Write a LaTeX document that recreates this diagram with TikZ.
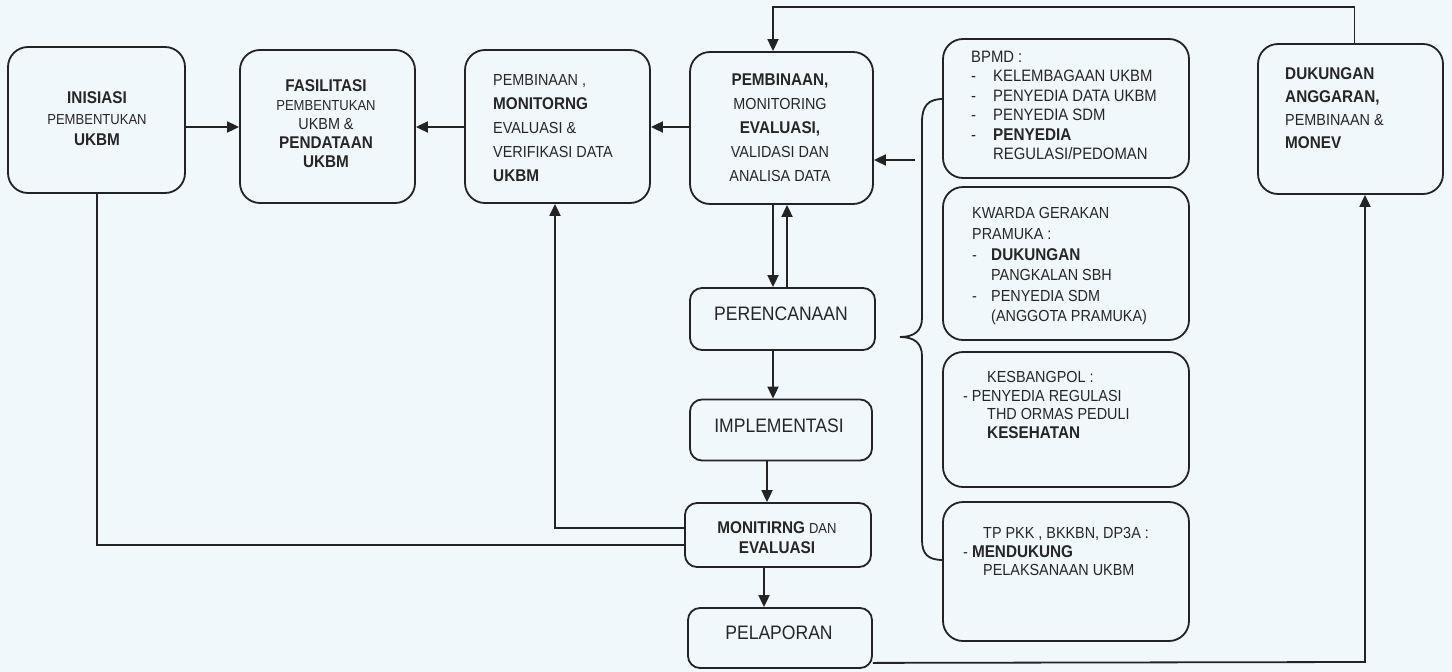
\documentclass[tikz,border=0pt]{standalone}
\usepackage{fontspec}
\setmainfont{Liberation Sans}[FakeStretch=0.9]
\usetikzlibrary{arrows.meta}

\definecolor{bgc}{HTML}{F1F8FB}
\definecolor{linec}{HTML}{232323}
\definecolor{txtc}{HTML}{262626}

% word styles: bold and small, keeping the line spacing of the node
\newcommand\Bw[1]{{\fontsize{17}{\baselineskip}\selectfont\bfseries #1}}
\newcommand\Sw[1]{{\fontsize{14.5}{\baselineskip}\selectfont #1}}
\newcommand\dsh[1][22pt]{\makebox[#1][l]{-}}
\newcommand\ind[1][22pt]{\hspace*{#1}}

\tikzset{
  box/.style={draw=linec, line width=1.8pt, rounded corners=20pt, inner sep=0pt},
  sbox/.style={box, rounded corners=12pt},
  conn/.style={draw=linec, line width=1.8pt},
  arr/.style={conn, -{Triangle[length=12pt,width=11pt]}},
  txc/.style={inner sep=0pt, text=txtc, align=center, font=\fontsize{16}{#1}\selectfont},
  txl/.style={inner sep=0pt, text=txtc, align=left, font=\fontsize{16}{#1}\selectfont},
  big/.style={inner sep=0pt, text=txtc, font=\fontsize{19.5}{22}\selectfont},
}

\begin{document}
\begin{tikzpicture}[x=1pt,y=-1pt]
\fill[bgc] (0,0) rectangle (1452,672);
\useasboundingbox (0,0) rectangle (1452,672);

% boxes
\node[box, minimum width=177pt, minimum height=146pt] (ini) at (96.5,120) {};
\node[box, minimum width=175pt, minimum height=153pt] (fas) at (327.5,126.5) {};
\node[box, minimum width=185pt, minimum height=153pt] (pmv) at (557.5,126.5) {};
\node[box, minimum width=183pt, minimum height=152pt] (pmc) at (781.5,128) {};
\node[box, minimum width=246pt, minimum height=139pt] (bpmd) at (1066,108.5) {};
\node[box, minimum width=246pt, minimum height=153pt] (kwa) at (1066,263.5) {};
\node[box, minimum width=246pt, minimum height=135pt] (kes) at (1066,419.5) {};
\node[box, minimum width=246pt, minimum height=139pt] (tpk) at (1066,571.5) {};
\node[box, minimum width=185pt, minimum height=150pt] (duk) at (1350.5,119) {};
\node[sbox, minimum width=185pt, minimum height=62pt] (per) at (782.5,319) {};
\node[sbox, minimum width=182pt, minimum height=61pt] (imp) at (781,430) {};
\node[sbox, minimum width=186pt, minimum height=64pt] (mon) at (778,535) {};
\node[sbox, minimum width=184pt, minimum height=60pt] (pel) at (780,638) {};

% texts
\node[txc=21] (t-ini) at (97,119) {\Bw{INISIASI}\\\Sw{PEMBENTUKAN}\\\Bw{UKBM}};
\node[txc=19] (t-fas) at (326,124) {\Bw{FASILITASI}\\\Sw{PEMBENTUKAN}\\UKBM \&\\\Bw{PENDATAAN}\\\Bw{UKBM}};
\node[txl=24, anchor=west] (t-pmv) at (493,128) {PEMBINAAN ,\\\Bw{MONITORNG}\\EVALUASI \&\\VERIFIKASI DATA\\\Bw{UKBM}};
\node[txc=24] (t-pmc) at (780,128) {\Bw{PEMBINAAN,}\\MONITORING\\\Bw{EVALUASI,}\\VALIDASI DAN\\ANALISA DATA};
\node[txl=19.4, anchor=west, font=\fontsize{16.5}{19.4}\selectfont] (t-bpmd) at (971,105.5)
  {BPMD :\\\dsh KELEMBAGAAN UKBM\\\dsh PENYEDIA DATA UKBM\\\dsh PENYEDIA SDM\\\dsh\Bw{PENYEDIA}\\\ind REGULASI/PEDOMAN};
\node[txl=20.6, anchor=west] (t-kwa) at (972,266.5)
  {KWARDA GERAKAN\\PRAMUKA :\\\dsh[19pt]\Bw{DUKUNGAN}\\\ind[19pt]PANGKALAN SBH\\\dsh[19pt]PENYEDIA SDM\\\ind[19pt](ANGGOTA PRAMUKA)};
\node[txl=18.5, anchor=west] (t-kes) at (963,405)
  {\ind[24pt]KESBANGPOL :\\- PENYEDIA REGULASI\\\ind[24pt]THD ORMAS PEDULI\\\ind[24pt]\Bw{KESEHATAN}};
\node[txl=18.5, anchor=west] (t-tpk) at (963,551.5)
  {\ind[20pt]TP PKK , BKKBN, DP3A :\\- \Bw{MENDUKUNG}\\\ind[20pt]PELAKSANAAN UKBM};
\node[txl=23, anchor=west] (t-duk) at (1285,108)
  {\Bw{DUKUNGAN}\\\Bw{ANGGARAN,}\\PEMBINAAN \&\\\Bw{MONEV}};
\node[big] (t-per) at (781,314) {PERENCANAAN};
\node[big] (t-imp) at (779,426) {IMPLEMENTASI};
\node[txc=20] (t-mon) at (777,538) {\Bw{MONITIRNG} \Sw{DAN}\\\Bw{EVALUASI}};
\node[big] (t-pel) at (779,633) {PELAPORAN};

% brace gathering the four supporting boxes
\draw[conn] (943,99) .. controls (928,99) and (922,106) .. (922,122)
  -- (922,318) .. controls (922,331) and (914,337) .. (900,337)
  .. controls (914,337) and (922,343) .. (922,356)
  -- (922,540) .. controls (922,554) and (928,560) .. (943,560);

% connectors
\coordinate (hy) at (0,127);
\draw[arr] (ini.east |- hy) -- (fas.west |- hy);
\draw[arr] (pmv.west |- hy) -- (fas.east |- hy);
\draw[arr] (pmc.west |- hy) -- (pmv.east |- hy);

\coordinate (bt) at (915,160);
\draw[arr] (bt) -- (bt -| pmc.east);

\coordinate (ctop) at (773,7);
\draw[arr] ([xshift=4pt]duk.north) |- (ctop) -- (ctop |- pmc.north);

\coordinate (cdn) at (773,0);
\coordinate (cup) at (787,0);
\draw[arr] (cdn |- pmc.south) -- (cdn |- per.north);
\draw[arr] (cup |- per.north) -- (cup |- pmc.south);
\draw[arr] (cdn |- per.south) -- (cdn |- imp.north);
\coordinate (c2) at (767,0);
\draw[arr] (c2 |- imp.south) -- (c2 |- mon.north);
\coordinate (c3) at (764,0);
\draw[arr] (c3 |- mon.south) -- (c3 |- pel.north);

\coordinate (m1) at (555,528);
\draw[arr] (mon.west |- m1) -| (pmv.south -| m1);
\coordinate (m2) at (97,545);
\draw[conn] (mon.west |- m2) -| (ini.south -| m2);

\coordinate (m3) at (1365,662);
\draw[arr] ([yshift=6pt]pel.south east) -- (m3) -- (m3 |- duk.south);
\end{tikzpicture}
\end{document}
